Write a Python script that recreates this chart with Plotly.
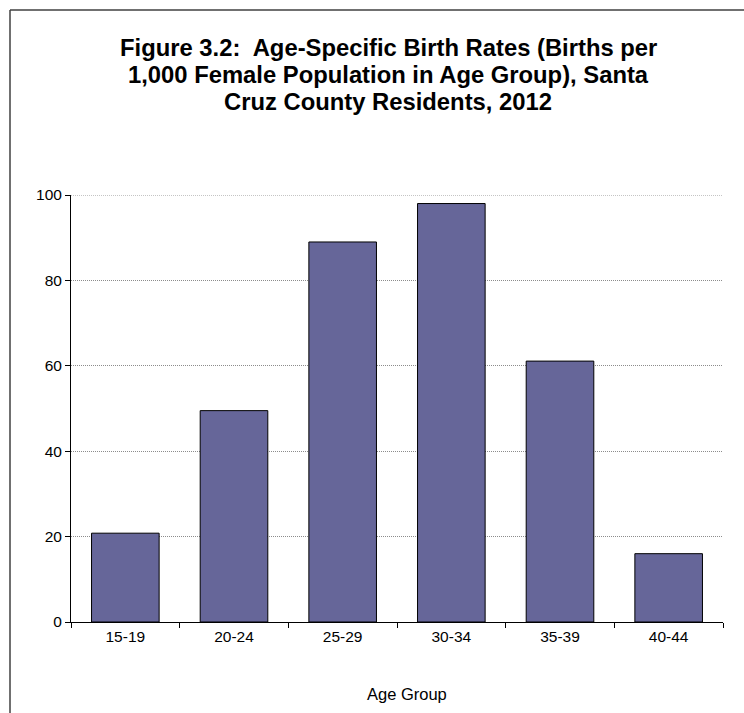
import plotly.graph_objects as go

# Age-specific birth rates, births per 1,000 women in each age group
age_groups = ["15-19", "20-24", "25-29", "30-34", "35-39", "40-44"]
birth_rates = [20.8, 49.5, 89.0, 98.0, 61.1, 16.0]
y_ticks = [0, 20, 40, 60, 80, 100]
title_lines = [
    "Figure 3.2:  Age-Specific Birth Rates (Births per",
    "1,000 Female Population in Age Group), Santa",
    "Cruz County Residents, 2012",
]
x_title = "Age Group"

FONT = "Liberation Sans, Arial, sans-serif"
GRID_COLOR = "#8c8c8c"
GRID_DASH = "1px,1px"

W, H = 744, 713
ML, MR, MT, MB = 71, 21, 195, 91
PW, PH = W - ML - MR, H - MT - MB


def px_x(p):
    return (p - ML) / PW


def px_y(p):
    return (H - MB - p) / PH


fig = go.Figure(
    go.Bar(
        x=age_groups,
        y=birth_rates,
        marker=dict(color="#666699", line=dict(color="#000000", width=1)),
        hoverinfo="x+y",
    )
)

# Gridline along the top of the value range
fig.add_shape(type="line", xref="paper", yref="y",
              x0=0, x1=1, y0=y_ticks[-1], y1=y_ticks[-1], layer="below",
              line=dict(color=GRID_COLOR, width=1, dash=GRID_DASH))

# Outer chart frame (left and top edges)
frame_color = "#404040"
fig.add_shape(type="line", xref="paper", yref="paper",
              x0=px_x(10), x1=px_x(10), y0=px_y(10), y1=px_y(H + 20),
              line=dict(color=frame_color, width=1.5))
fig.add_shape(type="line", xref="paper", yref="paper",
              x0=px_x(10), x1=px_x(W + 20), y0=px_y(10), y1=px_y(10),
              line=dict(color=frame_color, width=1.5))

# Three-line bold chart title
for i, line in enumerate(title_lines):
    fig.add_annotation(
        text=line, xref="paper", yref="paper",
        x=px_x(388), y=px_y(47 + 27.5 * i),
        xanchor="center", yanchor="middle", showarrow=False,
        font=dict(family=FONT, size=23.8, color="#000000", weight="bold"),
    )

# Category axis title
fig.add_annotation(
    text=x_title, xref="paper", yref="paper",
    x=px_x(407), y=px_y(694), xanchor="center", yanchor="middle",
    showarrow=False, font=dict(family=FONT, size=16.5, color="#000000"),
)

fig.update_layout(
    width=W,
    height=H,
    margin=dict(l=ML, r=MR, t=MT, b=MB, autoexpand=False),
    paper_bgcolor="white",
    plot_bgcolor="white",
    showlegend=False,
    bargap=0.378,
    font=dict(family=FONT, color="#000000"),
    xaxis=dict(
        tickfont=dict(size=15.5),
        showline=True, linecolor="#000000", linewidth=1,
        ticks="outside", tickson="boundaries", ticklen=5,
        tickcolor="#000000", showgrid=False, automargin=False,
    ),
    yaxis=dict(
        range=[0, 100],
        tickvals=y_ticks,
        tickfont=dict(size=15.5),
        showline=True, linecolor="#000000", linewidth=1,
        ticks="outside", ticklen=5, tickcolor="#000000",
        showgrid=True, gridcolor=GRID_COLOR, gridwidth=1, griddash=GRID_DASH,
        zeroline=False, automargin=False,
    ),
)

fig.write_html("out.html")
